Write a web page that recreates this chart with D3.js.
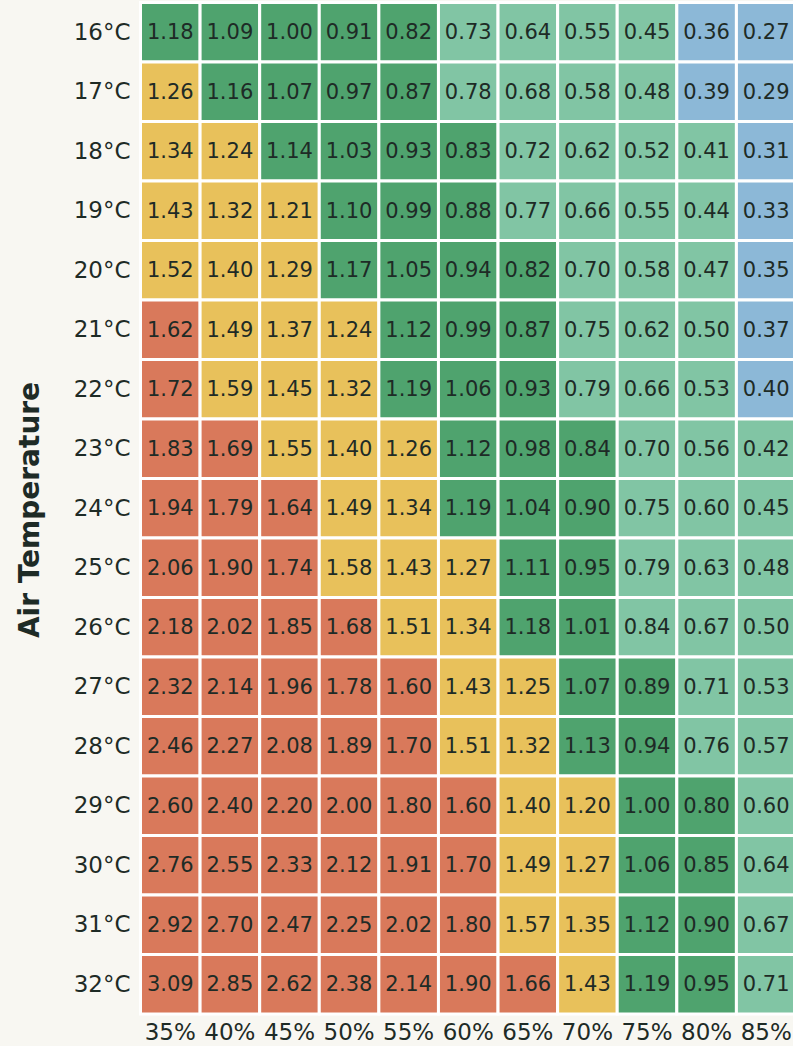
<!DOCTYPE html>
<html>
<head>
<meta charset="utf-8">
<script src="https://cdn.jsdelivr.net/npm/d3@7"></script>
<style>
  html, body { margin: 0; padding: 0; background: #f8f7f2; }
  svg { display: block; font-family: "DejaVu Sans", sans-serif; }
</style>
</head>
<body>
<svg width="793" height="1046"></svg>
<script>
const temps = ["16°C","17°C","18°C","19°C","20°C","21°C","22°C","23°C","24°C",
               "25°C","26°C","27°C","28°C","29°C","30°C","31°C","32°C"];
const humidity = ["35%","40%","45%","50%","55%","60%","65%","70%","75%","80%","85%"];

// VPD values, one row per air temperature
const vpd = [
    [1.18,1.09,1.00,0.91,0.82,0.73,0.64,0.55,0.45,0.36,0.27],
    [1.26,1.16,1.07,0.97,0.87,0.78,0.68,0.58,0.48,0.39,0.29],
    [1.34,1.24,1.14,1.03,0.93,0.83,0.72,0.62,0.52,0.41,0.31],
    [1.43,1.32,1.21,1.10,0.99,0.88,0.77,0.66,0.55,0.44,0.33],
    [1.52,1.40,1.29,1.17,1.05,0.94,0.82,0.70,0.58,0.47,0.35],
    [1.62,1.49,1.37,1.24,1.12,0.99,0.87,0.75,0.62,0.50,0.37],
    [1.72,1.59,1.45,1.32,1.19,1.06,0.93,0.79,0.66,0.53,0.40],
    [1.83,1.69,1.55,1.40,1.26,1.12,0.98,0.84,0.70,0.56,0.42],
    [1.94,1.79,1.64,1.49,1.34,1.19,1.04,0.90,0.75,0.60,0.45],
    [2.06,1.90,1.74,1.58,1.43,1.27,1.11,0.95,0.79,0.63,0.48],
    [2.18,2.02,1.85,1.68,1.51,1.34,1.18,1.01,0.84,0.67,0.50],
    [2.32,2.14,1.96,1.78,1.60,1.43,1.25,1.07,0.89,0.71,0.53],
    [2.46,2.27,2.08,1.89,1.70,1.51,1.32,1.13,0.94,0.76,0.57],
    [2.60,2.40,2.20,2.00,1.80,1.60,1.40,1.20,1.00,0.80,0.60],
    [2.76,2.55,2.33,2.12,1.91,1.70,1.49,1.27,1.06,0.85,0.64],
    [2.92,2.70,2.47,2.25,2.02,1.80,1.57,1.35,1.12,0.90,0.67],
    [3.09,2.85,2.62,2.38,2.14,1.90,1.66,1.43,1.19,0.95,0.71]
];

// colour zone of each cell
// R = too high, Y = high, G = ideal, L = low, B = too low
const zones = [
    "GGGGGLLLLBB",
    "YGGGGLLLLBB",
    "YYGGGGLLLLB",
    "YYYGGGLLLLB",
    "YYYGGGGLLLB",
    "RYYYGGGLLLB",
    "RYYYGGGLLLB",
    "RRYYYGGGLLL",
    "RRRYYGGGLLL",
    "RRRYYYGGLLL",
    "RRRRYYGGLLL",
    "RRRRRYYGGLL",
    "RRRRRYYGGLL",
    "RRRRRRYYGGL",
    "RRRRRRYYGGL",
    "RRRRRRYYGGL",
    "RRRRRRRYGGL"
];

const zoneColor = d3.scaleOrdinal()
    .domain(["R","Y","G","L","B"])
    .range(["#d9795b","#e8c15b","#4fa36e","#81c5a4","#8cb8d7"]);

const svg = d3.select("svg");
const ink = "#1e2b26";

const x = d3.scaleBand().domain(humidity).range([140.5, 796]);
const y = d3.scaleBand().domain(temps).range([2.5, 1014]);

const cells = [];
vpd.forEach((row, i) => row.forEach((v, j) => {
    cells.push({ t: temps[i], h: humidity[j], v, z: zones[i][j] });
}));

const cell = svg.append("g").selectAll("g")
    .data(cells)
    .join("g");

cell.append("rect")
    .attr("x", d => x(d.h))
    .attr("y", d => y(d.t))
    .attr("width", x.bandwidth())
    .attr("height", y.bandwidth())
    .attr("fill", d => zoneColor(d.z))
    .attr("stroke", "#ffffff")
    .attr("stroke-width", 3);

cell.append("text")
    .attr("x", d => x(d.h) + x.bandwidth() / 2)
    .attr("y", d => y(d.t) + y.bandwidth() / 2)
    .attr("text-anchor", "middle")
    .attr("dominant-baseline", "central")
    .attr("font-size", 21)
    .attr("fill", ink)
    .text(d => d.v.toFixed(2));

const yAxis = svg.append("g")
    .attr("transform", "translate(140.5,0)")
    .call(d3.axisLeft(y).tickSize(0).tickPadding(10));
yAxis.select(".domain").remove();
yAxis.selectAll("text")
    .attr("font-size", 23)
    .attr("font-family", "DejaVu Sans")
    .attr("fill", ink);

const xAxis = svg.append("g")
    .attr("transform", "translate(0,1014)")
    .call(d3.axisBottom(x).tickSize(0).tickPadding(10));
xAxis.select(".domain").remove();
xAxis.selectAll("text")
    .attr("font-size", 23)
    .attr("font-family", "DejaVu Sans")
    .attr("fill", ink);

svg.append("text")
    .attr("transform", "translate(29,510) rotate(-90)")
    .attr("text-anchor", "middle")
    .attr("dominant-baseline", "central")
    .attr("font-size", 28)
    .attr("font-weight", "bold")
    .attr("fill", ink)
    .text("Air Temperature");
</script>
</body>
</html>
